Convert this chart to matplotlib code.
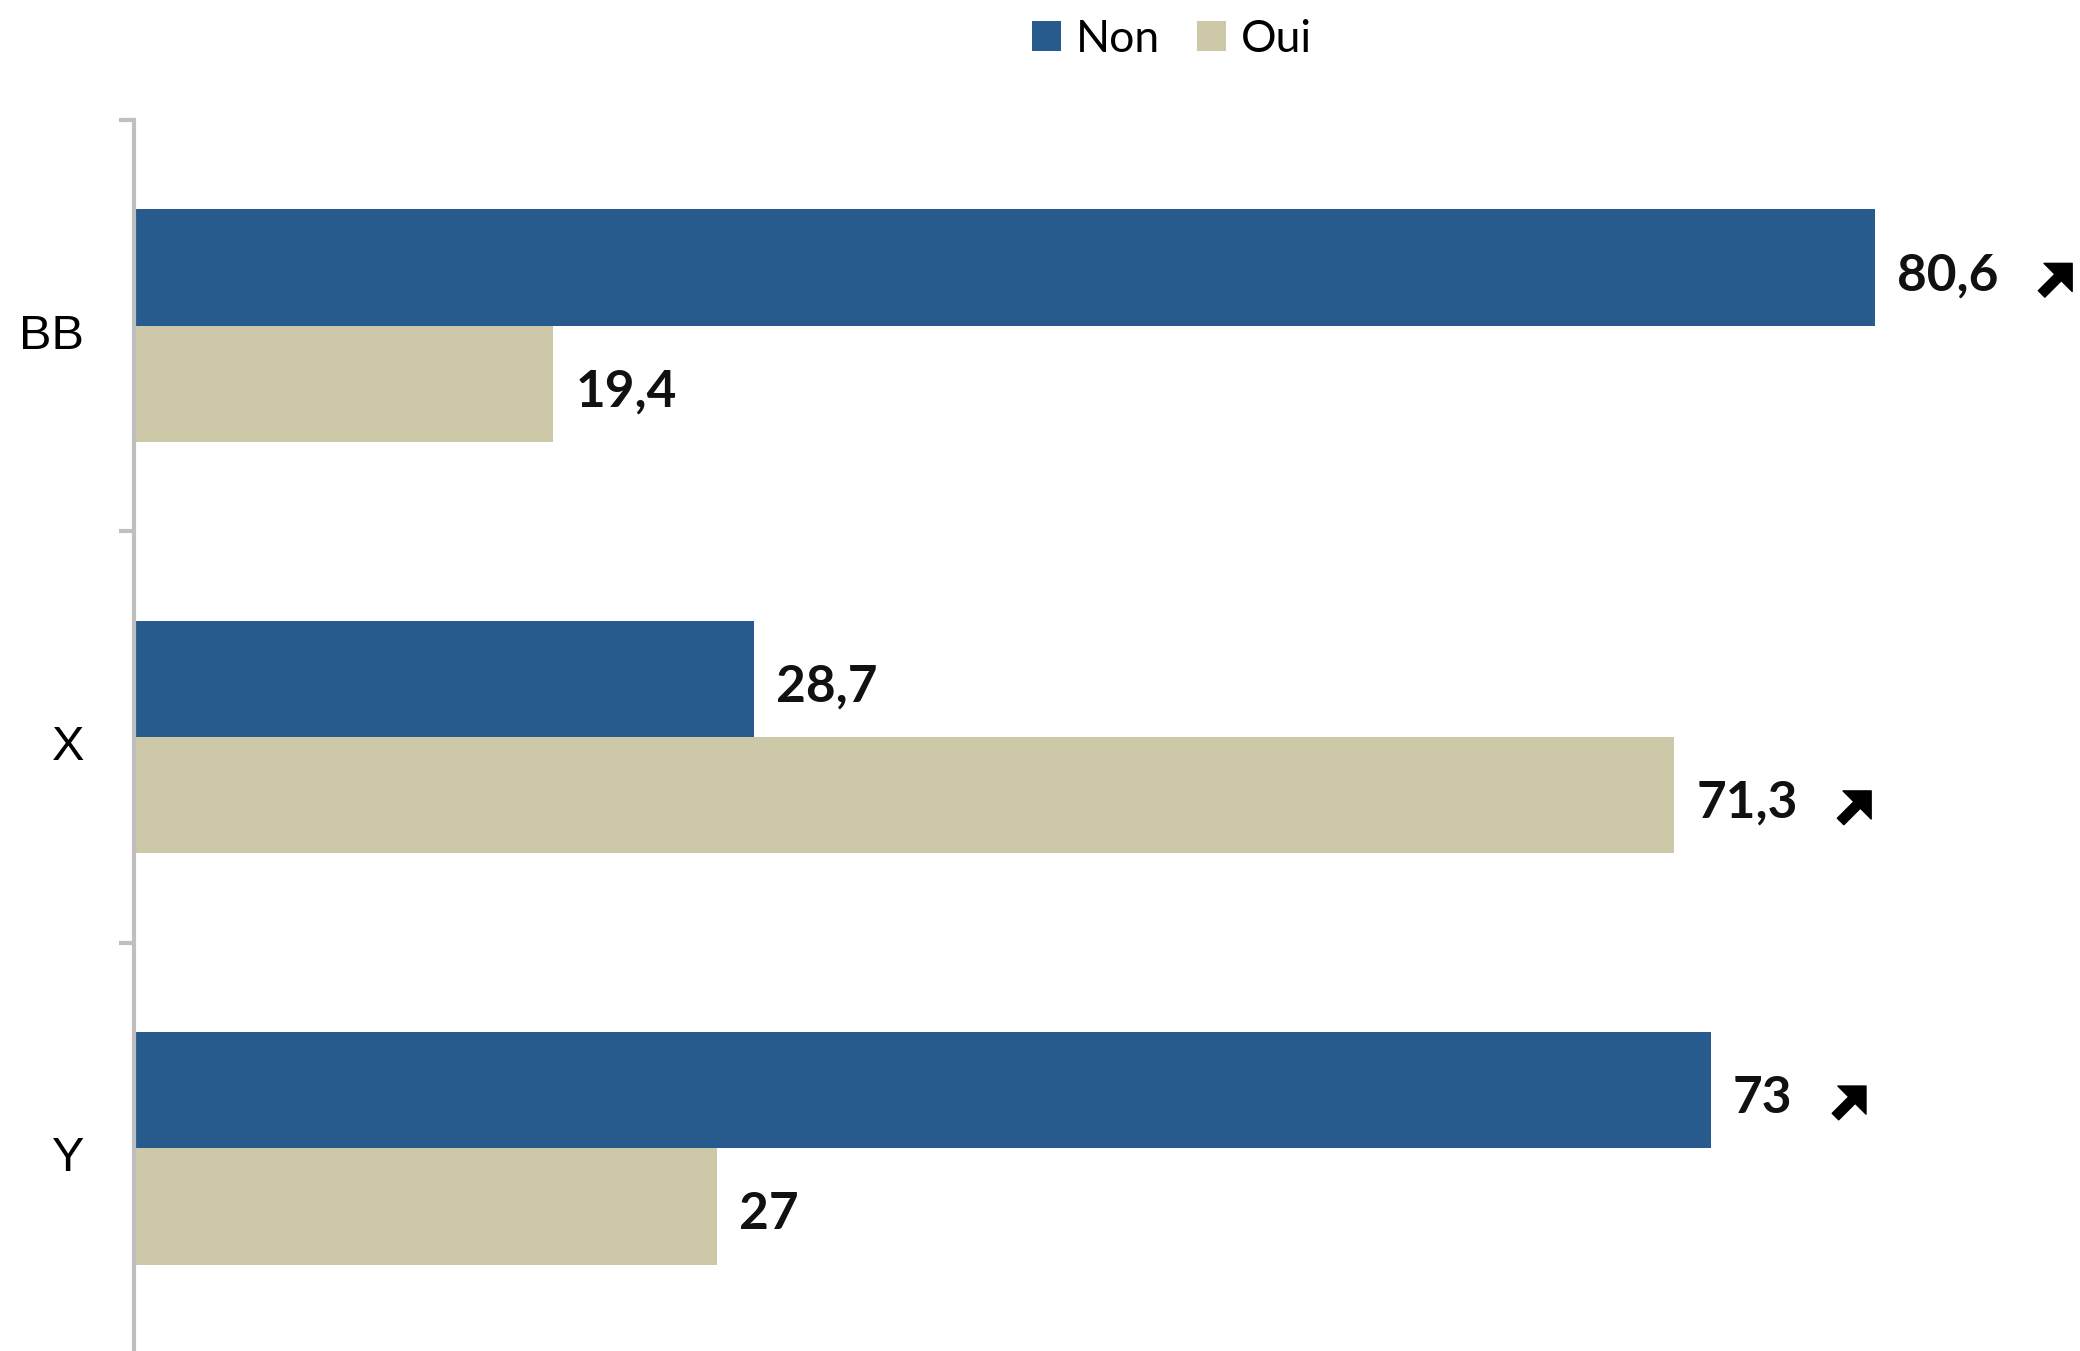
import matplotlib.pyplot as plt
import matplotlib.transforms as mtransforms
from matplotlib.text import OffsetFrom

# Data
categories = ['BB', 'X', 'Y']
non_values = [80.6, 28.7, 73]
oui_values = [19.4, 71.3, 27]
# which bars carry an upward trend arrow
non_arrows = [True, False, True]
oui_arrows = [False, True, False]

blue = '#275A8D'
beige = '#CDC8A8'

fig = plt.figure(figsize=(20.8, 13.51), dpi=100)
ax = fig.add_axes([0.0644, -0.0022, 0.9356, 0.9134])

h = 0.2825
y = list(range(len(categories)))
non_pos = [i - h / 2 for i in y]
oui_pos = [i + h / 2 for i in y]
bars_non = ax.barh(non_pos, non_values, height=h, color=blue, label='Non')
bars_oui = ax.barh(oui_pos, oui_values, height=h, color=beige, label='Oui')

ax.set_xlim(0, 90.1)
ax.set_ylim(2.5, -0.5)

# value labels with french decimal comma, plus trend arrows
for pos, vals, arrows in [(non_pos, non_values, non_arrows), (oui_pos, oui_values, oui_arrows)]:
    for yp, v, has_arrow in zip(pos, vals, arrows):
        txt = ax.annotate(f'{v:g}'.replace('.', ','), xy=(v, yp), xytext=(16, -6),
                          textcoords='offset points', va='center', ha='left',
                          fontsize=37, fontfamily='Lato', fontweight='bold', color='#111111')
        if not has_arrow:
            continue
        ref = OffsetFrom(txt, (1, 0.5), unit='points')
        ax.annotate('', xy=(53, 9), xycoords=ref, xytext=(31, -13), textcoords=ref,
                    arrowprops=dict(arrowstyle='simple,head_length=0.65,head_width=1.3,tail_width=0.3',
                                    color='black', mutation_scale=22, shrinkA=0, shrinkB=0))

# axes styling
for side in ['top', 'right', 'bottom']:
    ax.spines[side].set_visible(False)
ax.spines['left'].set_color('#BFBFBF')
ax.spines['left'].set_linewidth(3)
ax.set_xticks([])
ax.set_yticks(y)
ax.set_yticklabels(categories, fontsize=35, fontfamily='Liberation Sans')
ax.tick_params(axis='y', which='major', length=0, pad=36)
ax.set_yticks([-0.5, 0.5, 1.5, 2.5], minor=True)
ax.tick_params(axis='y', which='minor', length=11, width=3, color='#BFBFBF')

# nudge category labels down a little
off = mtransforms.ScaledTranslation(0, -4 / 72, fig.dpi_scale_trans)
for lbl in ax.get_yticklabels():
    lbl.set_transform(lbl.get_transform() + off)

fig.legend(handles=[bars_non, bars_oui], labels=['Non', 'Oui'], loc='center',
           bbox_to_anchor=(0.5635, 0.971), ncol=2, frameon=False, borderpad=0,
           prop={'family': 'Lato', 'size': 32}, handlelength=0.65, handleheight=0.65,
           handletextpad=0.34, columnspacing=0.83)

fig.savefig('out.png', dpi=100)
